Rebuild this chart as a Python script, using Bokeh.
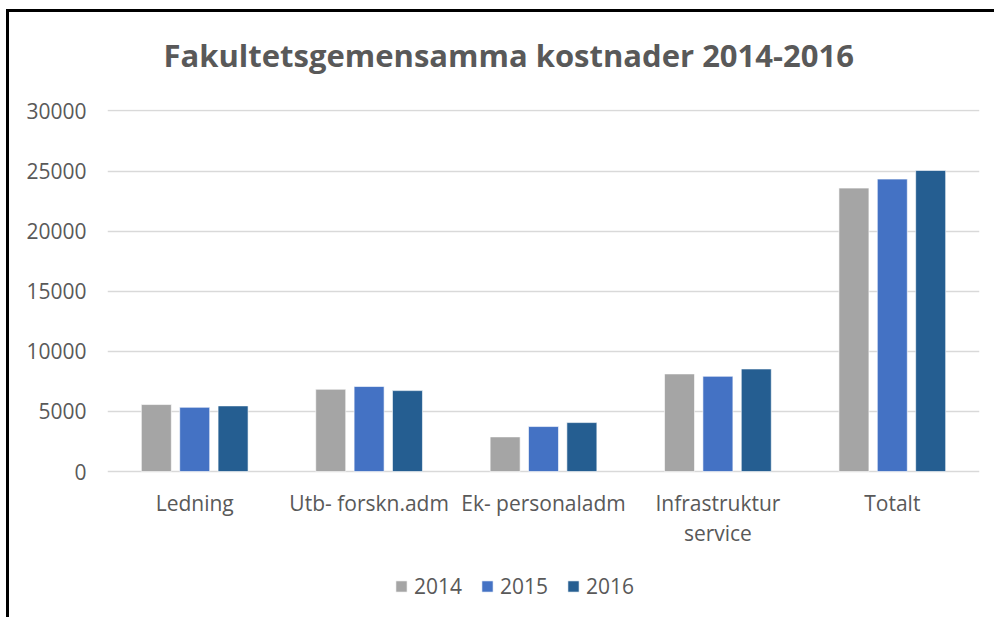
from bokeh.plotting import figure
from bokeh.models import ColumnDataSource, FactorRange, Range1d, Title, Legend, LegendItem, FixedTicker
from bokeh.transform import dodge
from bokeh.core.properties import value
from bokeh.embed import file_html
from bokeh.resources import INLINE

categories = ["Ledning", "Utb- forskn.adm", "Ek- personaladm", "Infrastruktur\nservice", "Totalt"]
years = ["2014", "2015", "2016"]
v2014 = [5570, 6840, 2880, 8120, 23580]
v2015 = [5340, 7070, 3740, 7920, 24330]
v2016 = [5460, 6730, 4070, 8530, 25050]
y_ticks = [0, 5000, 10000, 15000, 20000, 25000, 30000]
colors = ["#A5A5A5", "#4472C4", "#255E91"]
title_text = "Fakultetsgemensamma kostnader 2014-2016"

FONT = "Open Sans"
TXT = "#595959"

# value units per pixel of the plotting area (30120 over 362 px)
UPP = 30120 / 362.0
below_px = 146  # room below the zero line for category labels and legend

source = ColumnDataSource(dict(cat=categories, y2014=v2014, y2015=v2015, y2016=v2016))

p = figure(x_range=FactorRange(*categories), y_range=Range1d(-below_px * UPP, 30120),
           frame_width=872, frame_height=362 + below_px,
           min_border_left=98, min_border_right=15, min_border_top=97, min_border_bottom=0,
           output_backend="svg", toolbar_location=None, title=None)
p.styles = {"border-top": "3px solid black", "border-left": "3px solid black",
            "margin-left": "6px", "margin-top": "9px"}
p.outline_line_color = None
p.background_fill_color = "white"
p.border_fill_color = "white"

offsets = [-0.22, 0.0, 0.22]
renderers = []
for yr, off, col in zip(years, offsets, colors):
    r = p.vbar(x=dodge("cat", off, range=p.x_range), top="y" + yr, bottom=0, width=0.172,
               source=source, fill_color=col, line_color="white", line_alpha=0.6, line_width=1)
    renderers.append(r)

# category labels under the zero line
p.text(x="cat", y=-17 * UPP, text="cat", source=source,
       text_align="center", text_baseline="top", text_font=value(FONT),
       text_font_size="21px", text_color=TXT, text_line_height=1.1)

p.yaxis.ticker = FixedTicker(ticks=y_ticks)
p.yaxis.axis_line_color = None
p.yaxis.major_tick_line_color = None
p.yaxis.minor_tick_line_color = None
p.yaxis.major_label_standoff = 15
p.yaxis.major_label_text_font = FONT
p.yaxis.major_label_text_font_size = "21px"
p.yaxis.major_label_text_color = TXT

p.xaxis.visible = False
p.xgrid.grid_line_color = None
p.ygrid.grid_line_color = "#D9D9D9"
p.ygrid.grid_line_width = 1.5

spacer = Title(text=" ", standoff=1, text_font_size="8px")
p.add_layout(spacer, "above")
title = Title(text=title_text, align="left", offset=56, standoff=40, vertical_align="top",
              text_font=FONT, text_font_style="bold", text_font_size="31px", text_color=TXT)
p.add_layout(title, "above")

legend = Legend(items=[LegendItem(label=yr, renderers=[r]) for yr, r in zip(years, renderers)],
                orientation="horizontal", location=(287, 17),
                glyph_width=14, glyph_height=14, label_standoff=6, spacing=18,
                padding=0, margin=0, border_line_color=None, background_fill_alpha=0,
                label_text_font=FONT, label_text_font_size="21px", label_text_color=TXT)
p.add_layout(legend, "center")

open("out.html", "w").write(file_html(p, INLINE))
